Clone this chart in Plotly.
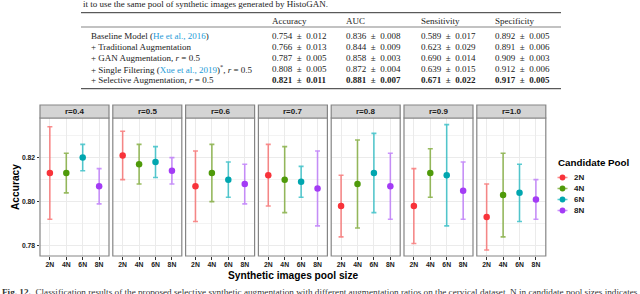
import plotly.graph_objects as go

# ---------------- data ----------------
ratios = ["r=0.4", "r=0.5", "r=0.6", "r=0.7", "r=0.8", "r=0.9", "r=1.0"]
pools = ["2N", "4N", "6N", "8N"]

# mean accuracy per ratio (rows) and pool (cols)
acc_mean = [
    [0.813, 0.813, 0.820, 0.807],
    [0.821, 0.817, 0.818, 0.814],
    [0.807, 0.813, 0.810, 0.808],
    [0.812, 0.810, 0.809, 0.806],
    [0.798, 0.808, 0.813, 0.807],
    [0.798, 0.813, 0.812, 0.805],
    [0.793, 0.803, 0.804, 0.801],
]
acc_upper = [
    [0.834, 0.822, 0.826, 0.815],
    [0.832, 0.826, 0.825, 0.820],
    [0.823, 0.826, 0.818, 0.817],
    [0.826, 0.825, 0.816, 0.823],
    [0.812, 0.828, 0.831, 0.822],
    [0.815, 0.824, 0.835, 0.818],
    [0.808, 0.822, 0.817, 0.810],
]
acc_lower = [
    [0.792, 0.804, 0.814, 0.799],
    [0.810, 0.808, 0.811, 0.808],
    [0.791, 0.800, 0.802, 0.799],
    [0.798, 0.795, 0.802, 0.789],
    [0.784, 0.788, 0.795, 0.792],
    [0.781, 0.802, 0.789, 0.792],
    [0.778, 0.784, 0.791, 0.792],
]
y_ticks = [0.78, 0.80, 0.82]

# table data
table_metrics = ["Accuracy", "AUC", "Sensitivity", "Specificity"]
table_rows = [
    "Baseline Model (<span style='color:#1E9BD7'>He et al., 2016</span>)",
    "+ Traditional Augmentation",
    "+ GAN Augmentation, <i>r</i> = 0.5",
    "+ Single Filtering (<span style='color:#1E9BD7'>Xue et al., 2019</span>)<sup>*</sup>, <i>r</i> = 0.5",
    "+ Selective Augmentation, <i>r</i> = 0.5",
]
table_mean = [
    ["0.754", "0.836", "0.589", "0.892"],
    ["0.766", "0.844", "0.623", "0.891"],
    ["0.787", "0.858", "0.690", "0.909"],
    ["0.808", "0.872", "0.639", "0.912"],
    ["0.821", "0.881", "0.671", "0.917"],
]
table_sd = [
    ["0.012", "0.008", "0.017", "0.005"],
    ["0.013", "0.009", "0.029", "0.006"],
    ["0.005", "0.003", "0.014", "0.003"],
    ["0.005", "0.004", "0.015", "0.006"],
    ["0.011", "0.007", "0.022", "0.005"],
]
top_text = "it to use the same pool of synthetic images generated by HistoGAN."
caption = ("<b>Fig. 12.</b>  Classification results of the proposed selective synthetic augmentation "
           "with different augmentation ratios on the cervical dataset. N in candidate pool sizes indicates")

# ---------------- style ----------------
W, H = 640, 294
point_colors = ["#F8333A", "#4F9A0A", "#00A6AF", "#A33BF5"]
bar_colors = ["rgba(248,80,80,0.65)", "rgba(110,160,30,0.7)", "rgba(0,175,185,0.65)", "rgba(175,90,250,0.65)"]
SANS = "Liberation Sans, Arial, sans-serif"
SERIF = "Liberation Serif, Times New Roman, serif"

panel_x0 = 40.0
panel_w = 69.0
panel_step = 72.8
plot_top, plot_bot = 118.0, 256.0
strip_top = 105.0

def px(x):
    return x / W

def py(y):
    return 1 - y / H

fig = go.Figure()
layout = {}
shapes = []
annotations = []

for i, r in enumerate(ratios):
    ax = "" if i == 0 else str(i + 1)
    x0 = panel_x0 + i * panel_step
    x1 = x0 + panel_w
    layout["xaxis" + ax] = dict(
        domain=[px(x0), px(x1)], anchor="y" + ax,
        type="category", categoryorder="array", categoryarray=pools,
        range=[-0.6, 3.6], showgrid=True, gridcolor="#EBEBEB", gridwidth=1,
        ticks="outside", ticklen=2.5, tickcolor="#333333", ticklabelstandoff=-1,
        tickfont=dict(family=SANS, size=6.8, color="#1A1A1A", weight="bold"),
        showline=False, zeroline=False, fixedrange=True,
    )
    layout["yaxis" + ax] = dict(
        domain=[py(plot_bot), py(plot_top)], anchor="x" + ax,
        range=[0.7753, 0.838], tickvals=y_ticks, ticktext=[f"{v:.2f}" for v in y_ticks],
        showticklabels=(i == 0), ticks="outside" if i == 0 else "", ticklen=2.5, tickcolor="#333333",
        tickfont=dict(family=SANS, size=6.8, color="#1A1A1A", weight="bold"),
        showgrid=True, gridcolor="#EBEBEB", gridwidth=1,
        minor=dict(dtick=0.01, tick0=0.78, showgrid=True, gridcolor="#F3F3F3", gridwidth=1),
        zeroline=False, showline=False, fixedrange=True,
    )
    # panel border
    shapes.append(dict(type="rect", xref="paper", yref="paper",
                       x0=px(x0), x1=px(x1), y0=py(plot_bot), y1=py(plot_top),
                       line=dict(color="#858585", width=1.2), fillcolor="rgba(0,0,0,0)", layer="above"))
    # strip
    shapes.append(dict(type="rect", xref="paper", yref="paper",
                       x0=px(x0), x1=px(x1), y0=py(plot_top), y1=py(strip_top),
                       line=dict(color="#858585", width=1.2), fillcolor="#D4D4D4", layer="above"))
    annotations.append(dict(text=f"<b>{r}</b>", xref="paper", yref="paper",
                            x=px((x0 + x1) / 2), y=py((plot_top + strip_top) / 2),
                            showarrow=False, xanchor="center", yanchor="middle",
                            font=dict(family=SANS, size=8, color="#1A1A1A")))
    for j, p in enumerate(pools):
        m = acc_mean[i][j]
        fig.add_trace(go.Scatter(
            x=[p], y=[m], mode="markers",
            xaxis="x" + ax, yaxis="y" + ax,
            marker=dict(color=point_colors[j], size=6.5),
            error_y=dict(type="data", symmetric=False,
                         array=[acc_upper[i][j] - m], arrayminus=[m - acc_lower[i][j]],
                         color=bar_colors[j], thickness=1.6, width=2.5),
            showlegend=False, hoverinfo="skip",
        ))

# axis titles
annotations.append(dict(text="<b>Synthetic images pool size</b>", xref="paper", yref="paper",
                        x=px(293), y=py(275), showarrow=False, xanchor="center", yanchor="middle",
                        font=dict(family=SANS, size=10.2, color="#000000")))
annotations.append(dict(text="<b>Accuracy</b>", xref="paper", yref="paper",
                        x=px(15), y=py((plot_top + plot_bot) / 2), showarrow=False, textangle=-90,
                        xanchor="center", yanchor="middle",
                        font=dict(family=SANS, size=10.2, color="#000000")))

# manual legend (compact, like ggplot)
annotations.append(dict(text="<b>Candidate Pool</b>", xref="paper", yref="paper",
                        x=px(556), y=py(163), showarrow=False, xanchor="left", yanchor="middle",
                        font=dict(family=SANS, size=9.8, color="#000000")))
leg_y = [177.5, 188.5, 199.5, 210.5]
for j, p in enumerate(pools):
    yy = leg_y[j]
    shapes.append(dict(type="line", xref="paper", yref="paper", x0=px(557.5), x1=px(567.5),
                       y0=py(yy), y1=py(yy), line=dict(color=bar_colors[j], width=1.5)))
    shapes.append(dict(type="circle", xref="paper", yref="paper", x0=px(559.6), x1=px(565.4),
                       y0=py(yy + 2.9), y1=py(yy - 2.9), line=dict(width=0),
                       fillcolor=point_colors[j]))
    annotations.append(dict(text=f"<b>{p}</b>", xref="paper", yref="paper",
                            x=px(572), y=py(yy), showarrow=False, xanchor="left", yanchor="middle",
                            font=dict(family=SANS, size=8, color="#1A1A1A")))

# ---------------- table at top ----------------
annotations.append(dict(text=top_text, xref="paper", yref="paper", x=px(81), y=py(4),
                        showarrow=False, xanchor="left", yanchor="middle",
                        font=dict(family=SERIF, size=9, color="#222222")))
for yy, wdt in [(12.7, 1.0), (27.0, 0.6), (88.7, 1.0)]:
    shapes.append(dict(type="line", xref="paper", yref="paper", x0=px(81), x1=px(561),
                       y0=py(yy), y1=py(yy), line=dict(color="#333333", width=wdt)))
col_x = [270, 344, 419, 493]
for k, mname in enumerate(table_metrics):
    annotations.append(dict(text=mname, xref="paper", yref="paper", x=px(col_x[k]), y=py(20.5),
                            showarrow=False, xanchor="left", yanchor="middle",
                            font=dict(family=SERIF, size=9, color="#222222")))
row_y = [36, 47, 58, 69, 80]
NB = "\u00a0"
for r_i, label in enumerate(table_rows):
    annotations.append(dict(text=label, xref="paper", yref="paper", x=px(89), y=py(row_y[r_i]),
                            showarrow=False, xanchor="left", yanchor="middle",
                            font=dict(family=SERIF, size=9, color="#222222")))
    for k in range(4):
        t = f"{table_mean[r_i][k]}{NB*2}±{NB*2}{table_sd[r_i][k]}"
        if r_i == len(table_rows) - 1:
            t = f"<b>{t}</b>"
        annotations.append(dict(text=t, xref="paper", yref="paper", x=px(col_x[k]), y=py(row_y[r_i]),
                                showarrow=False, xanchor="left", yanchor="middle",
                                font=dict(family=SERIF, size=9, color="#222222")))

# caption (partially cut off at the bottom)
annotations.append(dict(text=caption, xref="paper", yref="paper", x=px(0), y=py(292),
                        showarrow=False, xanchor="left", yanchor="middle",
                        font=dict(family=SERIF, size=9.2, color="#333333")))

fig.update_layout(
    width=W, height=H,
    margin=dict(l=0, r=0, t=0, b=0),
    paper_bgcolor="white", plot_bgcolor="white",
    shapes=shapes, annotations=annotations,
    showlegend=False,
    **layout,
)

fig.write_html("out.html", config={"displayModeBar": False},
               post_script="document.body.style.margin='0px';document.body.style.padding='0px';")
